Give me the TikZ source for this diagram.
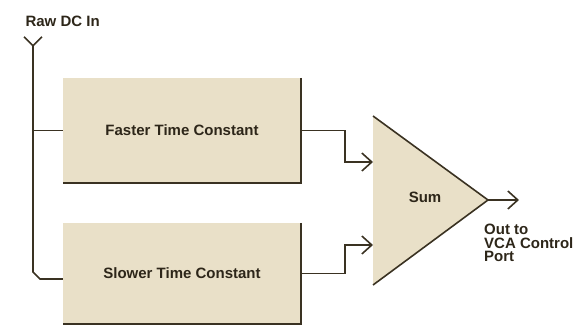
\documentclass[tikz,border=0pt]{standalone}
\usepackage{fontspec}
\setmainfont{Liberation Sans}
\usetikzlibrary{arrows.meta, calc}

\definecolor{boxfill}{RGB}{233,224,200}
\definecolor{wire}{RGB}{58,50,34}
\definecolor{ink}{RGB}{45,38,25}

\begin{document}
\begin{tikzpicture}[x=1pt, y=-1pt, >={Straight Barb[length=10pt, width=18pt]},
    wire_line/.style={wire, line width=1.6pt},
    stage/.style={fill=boxfill, minimum width=238pt, inner sep=0pt, font=\bfseries\fontsize{15}{16}\selectfont, text=ink},
    label_text/.style={font=\bfseries\fontsize{15}{13.5}\selectfont, text=ink}
]

\useasboundingbox (0,0) rectangle (578,326);

% Filter stages
\node[stage, minimum height=105pt] (fast) at (182,130.5) {Faster Time Constant};
\node[stage, minimum height=101pt] (slow) at (182,273.5) {Slower Time Constant};

% Dark right and bottom edges of the stages
\draw[wire_line] (fast.north east) -- (fast.south east) -- (fast.south west);
\draw[wire_line] (slow.north east) -- (slow.south east) -- (slow.south west);

% Summing amp
\coordinate (sumtop) at (373,116);
\coordinate (sumbot) at (373,285);
\coordinate (sumout) at (488,200);
\fill[boxfill] (sumtop) -- (sumout) -- (sumbot) -- cycle;
\draw[wire_line] (sumtop) -- (sumout) -- (sumbot);
\node[label_text] (sum) at (425,197) {Sum};

% Inputs of the sum
\coordinate (in1) at (373,162);
\coordinate (in2) at (373,245);
\draw[wire_line, ->] (fast.east) -- ++(44,0) |- (in1);
\draw[wire_line, ->] (slow.east) -- ++(44,0) |- (in2);

% Raw DC input, split to both stages
\coordinate (dcin) at (33,36);
\node[label_text, anchor=west] (rawlabel) at (22,21) {Raw DC In};
\draw[wire_line, {Straight Barb[reversed, length=9pt, width=18pt]}-] (dcin) -- (33,272) -- (40,279) -- (slow.west |- 0,279);
\draw[wire_line] (fast.west -| dcin) -- (fast.west);

% Output
\coordinate (vca) at (519,200);
\draw[wire_line, ->] (sumout) -- (vca);
\node[label_text, anchor=north west, align=left, inner sep=0pt] (outlabel) at (484,224) {Out to\\VCA Control\\Port};

\end{tikzpicture}
\end{document}
